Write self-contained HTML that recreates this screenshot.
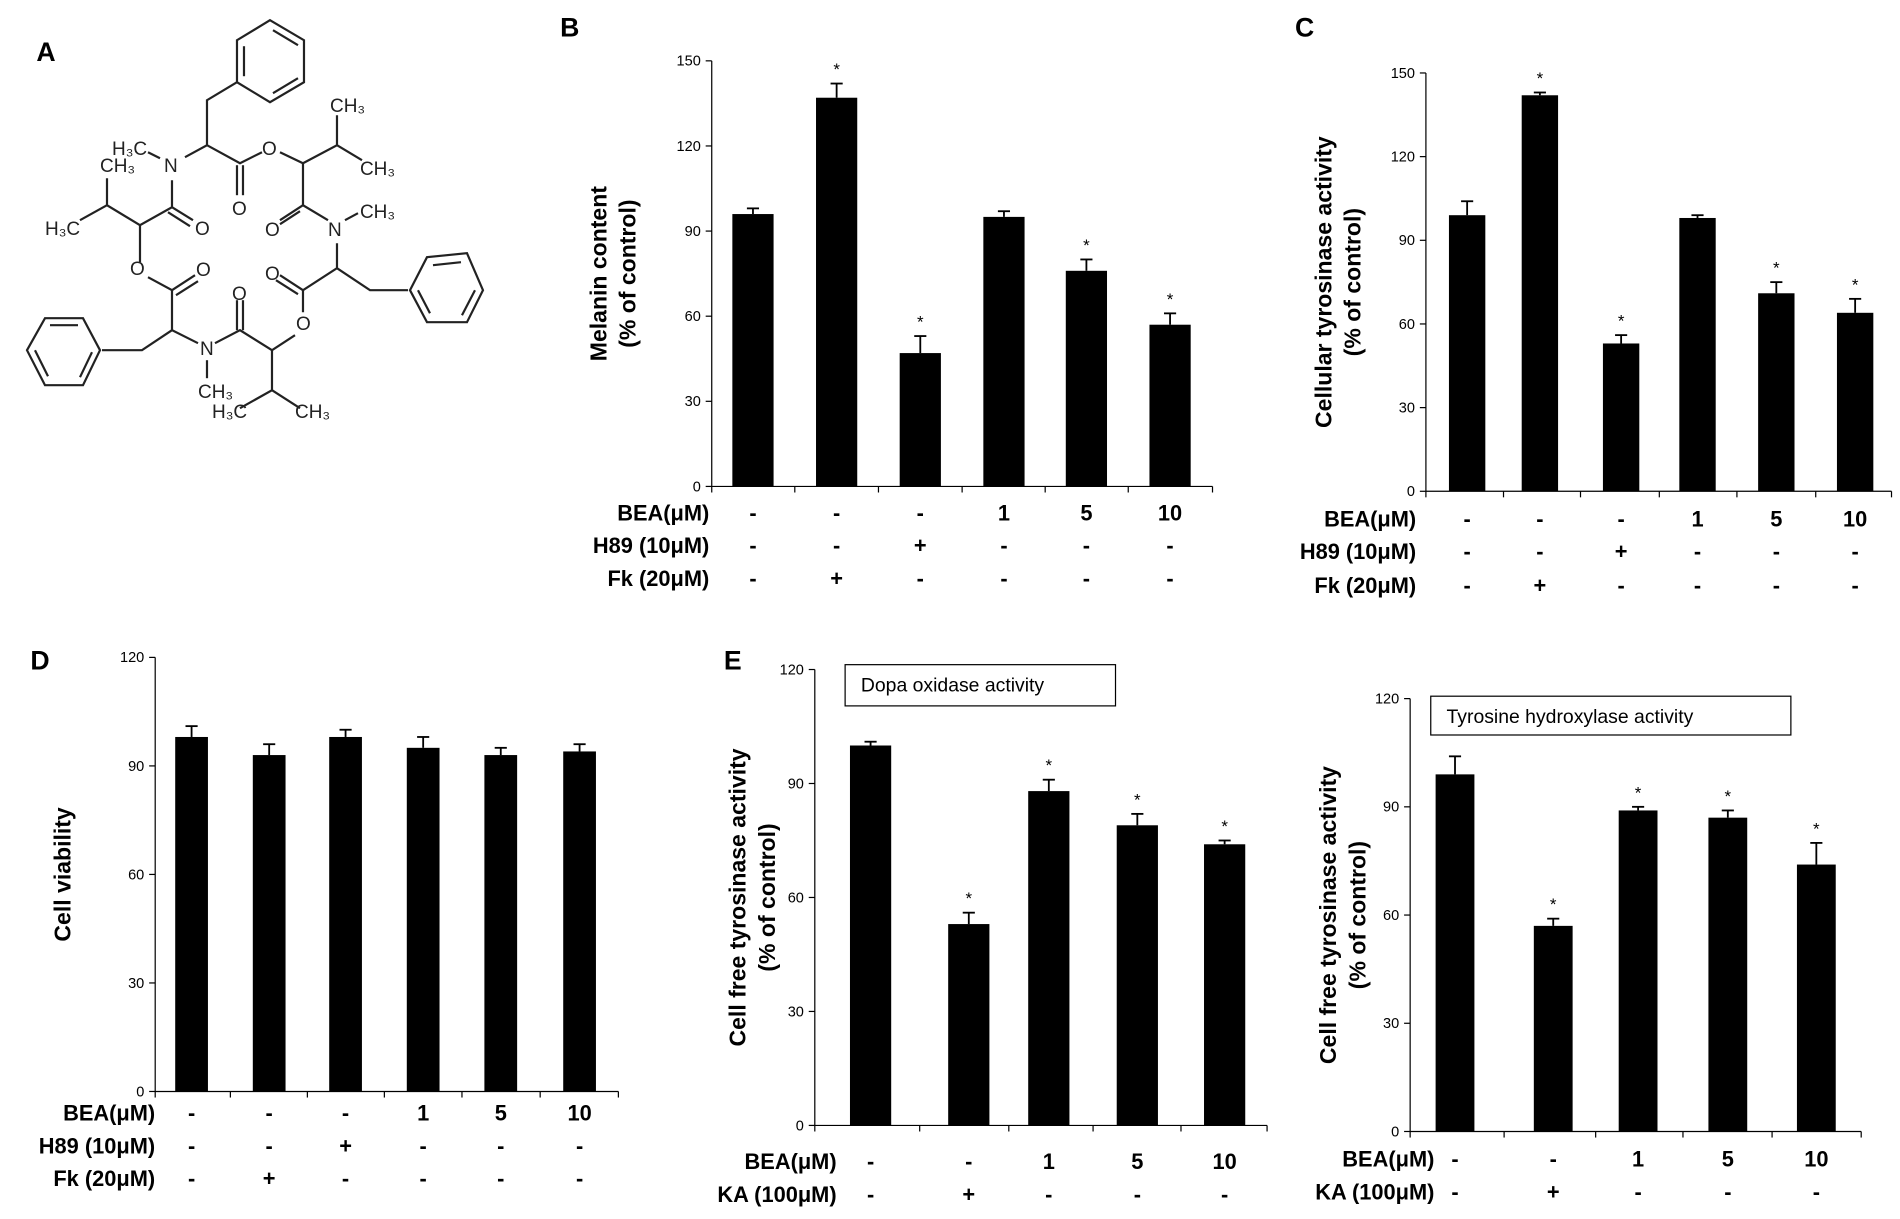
<!DOCTYPE html>
<html><head><meta charset="utf-8"><style>
html,body{margin:0;padding:0;background:#fff;}
svg{display:block;}
text{font-family:"Liberation Sans",Arial,sans-serif;}
</style></head><body>
<svg id="s" width="1900" height="1219" viewBox="0 0 1567 1005" xmlns="http://www.w3.org/2000/svg">
<rect width="1567" height="1005" fill="#fff"/>
<text x="30" y="50" font-size="22" font-weight="bold">A</text>
<g transform="scale(0.8247)" stroke="#222" stroke-width="2.2" fill="none">
<polygon points="270,20 304,40 304,82 270,102 237,82 237,40"/>
<line x1="244" y1="46" x2="244" y2="76"/><line x1="273" y1="30" x2="298" y2="45"/><line x1="298" y1="78" x2="273" y2="93"/>
<polyline points="237,82 207,100 207,145 185,157"/>
<line x1="160" y1="158" x2="148" y2="152"/>
<polyline points="207,145 240,163 262,152"/><line x1="237" y1="165" x2="237" y2="195"/><line x1="243" y1="165" x2="243" y2="195"/>
<polyline points="280,152 303,163 337,145 337,115"/><line x1="337" y1="145" x2="362" y2="160"/>
<polyline points="303,163 303,205 328,220"/><line x1="303" y1="205" x2="280" y2="220"/><line x1="300" y1="211" x2="280" y2="224"/>
<line x1="345" y1="220" x2="358" y2="213"/>
<polyline points="337,243 337,268 303,290 303,312"/><line x1="303" y1="290" x2="280" y2="275"/><line x1="298" y1="294" x2="276" y2="280"/>
<polyline points="337,268 370,290 408,290"/>
<polygon points="410,290 427,257 467,253 483,290 467,322 427,322"/>
<line x1="433" y1="265" x2="461" y2="262"/><line x1="475" y1="290" x2="462" y2="315"/><line x1="418" y1="290" x2="430" y2="313"/>
<polyline points="295,335 272,350 272,390 240,408"/><line x1="272" y1="390" x2="300" y2="408"/>
<polyline points="272,350 240,330 215,343"/><line x1="237" y1="330" x2="237" y2="300"/><line x1="243" y1="330" x2="243" y2="300"/>
<line x1="207" y1="360" x2="207" y2="378"/>
<polyline points="198,343 172,330 142,350 102,350"/>
<polygon points="100,350 83,318 45,318 27,350 45,385 83,385"/>
<line x1="50" y1="325" x2="78" y2="325"/><line x1="35" y1="350" x2="48" y2="376"/><line x1="80" y1="377" x2="92" y2="352"/>
<polyline points="172,330 172,290 148,277"/><line x1="172" y1="290" x2="195" y2="275"/><line x1="176" y1="295" x2="198" y2="281"/>
<polyline points="140,262 140,225 172,207 172,180"/><line x1="172" y1="207" x2="193" y2="220"/><line x1="168" y1="212" x2="190" y2="226"/>
<polyline points="140,225 107,205 107,178"/><line x1="107" y1="205" x2="80" y2="220"/>
</g>
<g transform="scale(0.8247)" font-size="19" fill="#222">
<text x="164" y="172">N</text><text x="112" y="155">H₃C</text><text x="100" y="172">CH₃</text>
<text x="262" y="155">O</text><text x="232" y="215">O</text>
<text x="330" y="112">CH₃</text><text x="360" y="175">CH₃</text>
<text x="328" y="236">N</text><text x="360" y="218">CH₃</text><text x="265" y="236">O</text>
<text x="265" y="280">O</text><text x="296" y="330">O</text>
<text x="130" y="275">O</text><text x="195" y="235">O</text><text x="45" y="235">H₃C</text>
<text x="200" y="355">N</text><text x="198" y="398">CH₃</text><text x="232" y="300">O</text>
<text x="196" y="276">O</text>
<text x="212" y="418">H₃C</text><text x="295" y="418">CH₃</text>
</g>
<g id="charts"></g>
</svg>
<script>
const NS="http://www.w3.org/2000/svg",g=document.getElementById('charts');
function el(t,a,txt){const e=document.createElementNS(NS,t);for(const k in a)e.setAttribute(k,a[k]);if(txt!==undefined)e.textContent=txt;g.appendChild(e);return e;}
function chart(o){
 const sc=(o.y0-o.yTop)/o.max, Y=v=>o.y0-v*sc;
 el('line',{x1:o.ax,y1:o.yTop,x2:o.ax,y2:o.y0,stroke:'#000','stroke-width':1});
 el('line',{x1:o.ax,y1:o.y0,x2:o.xEnd,y2:o.y0,stroke:'#000','stroke-width':1});
 for(let v=0;v<=o.max;v+=30){el('line',{x1:o.ax-5,y1:Y(v),x2:o.ax,y2:Y(v),stroke:'#000'});
  el('text',{x:o.ax-9,y:Y(v)+4,'font-size':12,'text-anchor':'end'},String(v));}
 for(let i=0;i<=o.c.length;i++){const x=i==o.c.length?o.xEnd:(i==0?o.ax:(o.c[i-1]+o.c[i])/2);el('line',{x1:x,y1:o.y0,x2:x,y2:o.y0+5,stroke:'#000'});}
 o.c.forEach((c,i)=>{const v=o.v[i],e=o.e[i];
  el('rect',{x:c-o.w/2,y:Y(v),width:o.w,height:v*sc,fill:'#000'});
  el('line',{x1:c,y1:Y(v),x2:c,y2:Y(v+e),stroke:'#000','stroke-width':1.5});
  el('line',{x1:c-5,y1:Y(v+e),x2:c+5,y2:Y(v+e),stroke:'#000','stroke-width':1.5});
  if(o.st[i])el('text',{x:c,y:Y(v+e)-7,'font-size':14,'text-anchor':'middle'},'*');});
 el('text',{transform:'translate('+o.tx+','+((o.y0+o.yTop)/2)+') rotate(-90)','font-size':19,'font-weight':'bold','text-anchor':'middle'},o.t1);
 if(o.t2)el('text',{transform:'translate('+(o.tx+24)+','+((o.y0+o.yTop)/2)+') rotate(-90)','font-size':19,'font-weight':'bold','text-anchor':'middle'},o.t2);
 o.rows.forEach((r,j)=>{el('text',{x:o.lx,y:o.ry[j]+6,'font-size':18,'font-weight':'bold','text-anchor':'end'},r[0]);
  r[1].forEach((m,i)=>el('text',{x:o.c[i],y:o.ry[j]+6,'font-size':18,'font-weight':'bold','text-anchor':'middle'},m));});
 if(o.leg){el('rect',{x:o.leg[0],y:o.leg[1],width:o.leg[2],height:o.leg[3],fill:'#fff',stroke:'#000'});
  el('text',{x:o.leg[0]+13,y:o.leg[1]+22,'font-size':16},o.leg[4]);}
 if(o.L)el('text',{x:o.L[0],y:o.L[1],'font-size':22,'font-weight':'bold'},o.L[2]);
}
const R3=[['BEA(μM)',['-','-','-','1','5','10']],['H89 (10μM)',['-','-','+','-','-','-']],['Fk (20μM)',['-','+','-','-','-','-']]];
const R2=[['BEA(μM)',['-','-','1','5','10']],['KA (100μM)',['-','+','-','-','-']]];
const C=[
{ax:587,y0:401,yTop:50,max:150,xEnd:1000,c:[621,690,759,828,896,965],w:34,v:[96,137,47,95,76,57],e:[2,5,6,2,4,4],st:[0,1,1,0,1,1],tx:500,t1:'Melanin content',t2:'(% of control)',lx:585,ry:[423,450,477],rows:R3,L:[462,30,'B']},
{ax:1176,y0:405,yTop:60,max:150,xEnd:1560,c:[1210,1270,1337,1400,1465,1530],w:30,v:[99,142,53,98,71,64],e:[5,1,3,1,4,5],st:[0,1,1,0,1,1],tx:1098,t1:'Cellular tyrosinase activity',t2:'(% of control)',lx:1168,ry:[428,455,483],rows:R3,L:[1068,30,'C']},
{ax:128,y0:900,yTop:542,max:120,xEnd:510,c:[158,222,285,349,413,478],w:27,v:[98,93,98,95,93,94],e:[3,3,2,3,2,2],st:[0,0,0,0,0,0],tx:58,t1:'Cell viability',lx:128,ry:[918,945,972],rows:R3,L:[25,552,'D']},
{ax:672,y0:928,yTop:552,max:120,xEnd:1045,c:[718,799,865,938,1010],w:34,v:[100,53,88,79,74],e:[1,3,3,3,1],st:[0,1,1,1,1],tx:615,t1:'Cell free tyrosinase activity',t2:'(% of control)',lx:690,ry:[958,985],rows:R2,leg:[697,548,223,34,'Dopa oxidase activity'],L:[597,552,'E']},
{ax:1163,y0:933,yTop:576,max:120,xEnd:1535,c:[1200,1281,1351,1425,1498],w:32,v:[99,57,89,87,74],e:[5,2,1,2,6],st:[0,1,1,1,1],tx:1102,t1:'Cell free tyrosinase activity',t2:'(% of control)',lx:1183,ry:[956,983],rows:R2,leg:[1180,574,297,32,'Tyrosine hydroxylase activity']}];
C.forEach(o=>{try{chart(o);}catch(err){}});
</script>
</body></html>
